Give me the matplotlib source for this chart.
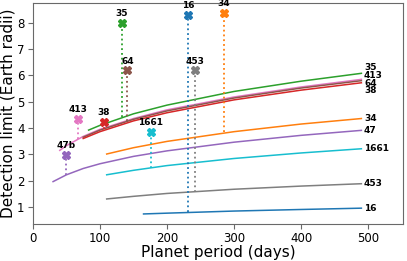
import matplotlib
matplotlib.use("Agg")
import matplotlib.pyplot as plt

# --- detection-limit curves (period in days, radius in Earth radii)
names = ["35", "413", "64", "38", "34", "47", "1661", "453", "16"]
colors = ["tab:green", "tab:pink", "tab:brown", "tab:red", "tab:orange",
          "tab:purple", "tab:cyan", "tab:gray", "tab:blue"]

curve_p = {
    "35": [83, 100, 150, 200, 300, 400, 490],
    "413": [40, 50, 75, 100, 150, 200, 300, 400, 490],
    "64": [75, 100, 150, 200, 300, 400, 490],
    "38": [75, 100, 150, 200, 300, 400, 490],
    "34": [110, 150, 200, 300, 400, 490],
    "47": [30, 50, 75, 100, 150, 200, 300, 400, 490],
    "1661": [110, 150, 200, 300, 400, 490],
    "453": [110, 150, 200, 300, 400, 490],
    "16": [165, 200, 300, 400, 490],
}
curve_r = {
    "35": [3.92, 4.10, 4.54, 4.87, 5.39, 5.78, 6.08],
    "413": [3.15, 3.33, 3.68, 3.95, 4.36, 4.69, 5.18, 5.56, 5.85],
    "64": [3.65, 3.92, 4.33, 4.65, 5.14, 5.52, 5.80],
    "38": [3.60, 3.86, 4.27, 4.58, 5.07, 5.44, 5.72],
    "34": [3.01, 3.25, 3.49, 3.86, 4.15, 4.36],
    "47": [1.96, 2.22, 2.46, 2.64, 2.92, 3.13, 3.46, 3.72, 3.91],
    "1661": [2.22, 2.39, 2.57, 2.84, 3.05, 3.21],
    "453": [1.30, 1.40, 1.51, 1.67, 1.79, 1.88],
    "16": [0.73, 0.76, 0.84, 0.90, 0.95],
}
# label heights at the right end (spread out where lines bunch together)
label_y = [6.29, 6.00, 5.71, 5.42, 4.36, 3.91, 3.21, 1.88, 0.95]

# --- known planets: period, radius, limit at that period
planet_names = ["35", "64", "16", "453", "34", "413", "38", "1661", "47b"]
planet_colors = ["tab:green", "tab:brown", "tab:blue", "tab:gray", "tab:orange",
                 "tab:pink", "tab:red", "tab:cyan", "tab:purple"]
planet_p = [133, 141, 232, 242, 285, 67, 106, 176, 49]
planet_r = [8.00, 6.19, 8.29, 6.19, 8.39, 4.35, 4.22, 3.86, 2.97]
planet_lim = [4.41, 4.26, 0.79, 1.58, 3.85, 3.58, 3.95, 2.49, 2.22]

fig = plt.figure(figsize=(4.07, 2.61), dpi=100)
ax = fig.add_axes([0.081, 0.142, 0.909, 0.847])

for name, c, ly in zip(names, colors, label_y):
    ax.plot(curve_p[name], curve_r[name], color=c, lw=1.1)
    ax.text(curve_p[name][-1] + 4, ly, name, fontsize=6.5, fontweight="bold",
            ha="left", va="center")

for name, c, p, r, lim in zip(planet_names, planet_colors, planet_p, planet_r, planet_lim):
    ax.plot([p, p], [lim, r], color=c, ls=":", lw=1.3)
    ax.plot(p, r, marker="X", color=c, ms=6, mec=c)
    ax.annotate(name, (p, r), xytext=(0, 3.5), textcoords="offset points",
                ha="center", va="bottom", fontsize=6.5, fontweight="bold")

ax.set_xlim(0, 552)
ax.set_ylim(0.35, 8.76)
ax.set_xticks([0, 100, 200, 300, 400, 500])
ax.set_yticks([1, 2, 3, 4, 5, 6, 7, 8])
ax.tick_params(labelsize=8.5, color="dimgray", pad=2.5)
for s in ax.spines.values():
    s.set_color("dimgray")
ax.set_xlabel("Planet period (days)", fontsize=11, labelpad=0)
ax.set_ylabel("Detection limit (Earth radii)", fontsize=11, labelpad=1)

fig.savefig("out.png", dpi=100)
